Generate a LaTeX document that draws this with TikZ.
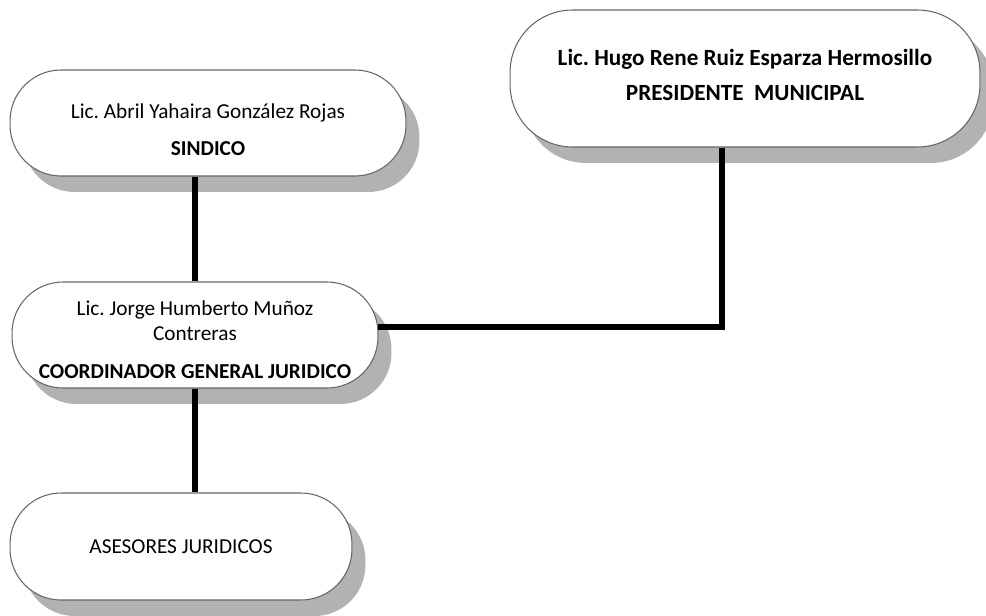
\documentclass[tikz,border=0pt]{standalone}
\usepackage{fontspec}
\setmainfont{Carlito}
\usepackage{tikz}
\usetikzlibrary{shadows}
\frenchspacing
\tikzset{
	cargo/.style={draw=black!60, line width=0.6pt, fill=white, rounded corners=1.02cm, inner sep=0pt, align=center,
		font=\fontsize{12.1}{14.5}\selectfont,
		drop shadow={shadow xshift=0.27cm, shadow yshift=-0.32cm, fill=black!30, opacity=1}},
	linea/.style={line width=3.9pt, black}
}

\begin{document}
\begin{tikzpicture}[x=0.02cm, y=-0.02cm]
	\useasboundingbox (0,0) rectangle (986,615);
	\node [cargo, minimum width=9.4cm, minimum height=2.74cm, rounded corners=1.25cm, font=\fontsize{13.2}{16}\selectfont\bfseries] (presidente) at (745,78.5)
		{Lic. Hugo Rene Ruiz Esparza Hermosillo\\[4pt] PRESIDENTE\ \ MUNICIPAL\rule[-4.6pt]{0pt}{0pt}};
	\node [cargo, minimum width=7.92cm, minimum height=2.12cm] (sindico) at (208,123)
		{\rule{0pt}{16pt}Lic. Abril Yahaira González Rojas\\[7pt] \textbf{SINDICO}};
	\node [cargo, minimum width=7.32cm, minimum height=2.12cm] (coordinador) at (195,335)
		{\rule{0pt}{13.6pt}Lic. Jorge Humberto Muñoz\\ Contreras\\[7pt] \textbf{COORDINADOR GENERAL JURIDICO}};
	\node [cargo, minimum width=6.84cm, minimum height=2.14cm] (asesores) at (181,546.5)
		{ASESORES JURIDICOS};
	\coordinate (quiebre) at (722,327);
	\draw [linea] (coordinador.north) -- (coordinador.north |- sindico.south);
	\draw [linea] (coordinador.south) -- (coordinador.south |- asesores.north);
	\draw [linea] (presidente.south -| quiebre) -- (quiebre) -- (quiebre -| coordinador.east);
\end{tikzpicture}
\end{document}
